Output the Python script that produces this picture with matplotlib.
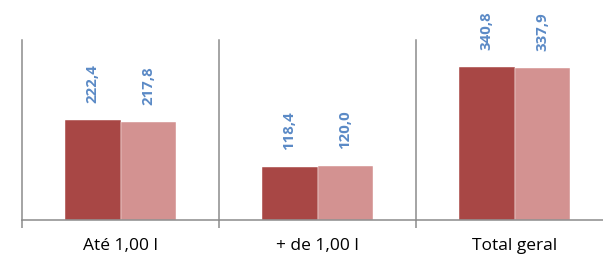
import numpy as np
import matplotlib.pyplot as plt

categorias = ["Até 1,00 l", "+ de 1,00 l", "Total geral"]
serie_a = [222.4, 118.4, 340.8]
serie_b = [217.8, 120.0, 337.9]
rotulos_a = ["222,4", "118,4", "340,8"]
rotulos_b = ["217,8", "120,0", "337,9"]

cor_a = "#A84745"
cor_b = "#D39291"
cor_txt = "#5B8AC6"
cor_eixo = "#8C8C8C"

fig = plt.figure(figsize=(6.03, 2.59), dpi=100)
ax = fig.add_axes([22/603, 39/259, 591/603, 180/259])

x = np.arange(len(categorias))
w = 0.284
ax.bar(x - w/2, serie_a, w, color=cor_a, edgecolor="white", linewidth=0.3)
ax.bar(x + w/2, serie_b, w, color=cor_b, edgecolor="white", linewidth=0.3)

for i in range(len(categorias)):
    ax.annotate(rotulos_a[i], (x[i] - w/2, serie_a[i]), xytext=(0, 12),
                textcoords="offset points", rotation=90, ha="center", va="bottom",
                color=cor_txt, fontsize=10.8, fontweight="bold", family="Open Sans")
    ax.annotate(rotulos_b[i], (x[i] + w/2, serie_b[i]), xytext=(0, 12),
                textcoords="offset points", rotation=90, ha="center", va="bottom",
                color=cor_txt, fontsize=10.8, fontweight="bold", family="Open Sans")

for b in [-0.5, 0.5, 1.5]:
    ax.axvline(b, color=cor_eixo, lw=1.1, ymin=0, ymax=1, clip_on=False)

ax.set_xlim(-0.5, 2.5)
ax.set_ylim(0, 400)
for s in ["top", "right", "left"]:
    ax.spines[s].set_visible(False)
ax.spines["bottom"].set_color(cor_eixo)
ax.spines["bottom"].set_linewidth(1.1)
ax.set_yticks([])
ax.set_xticks(x)
ax.set_xticklabels(categorias, fontsize=12.5, family="Open Sans")
ax.tick_params(axis="x", which="major", length=0, pad=13)
ax.set_xticks([-0.5, 0.5, 1.5, 2.5], minor=True)
ax.tick_params(axis="x", which="minor", length=6, width=1.1, color=cor_eixo)

fig.savefig("out.png", dpi=100)
